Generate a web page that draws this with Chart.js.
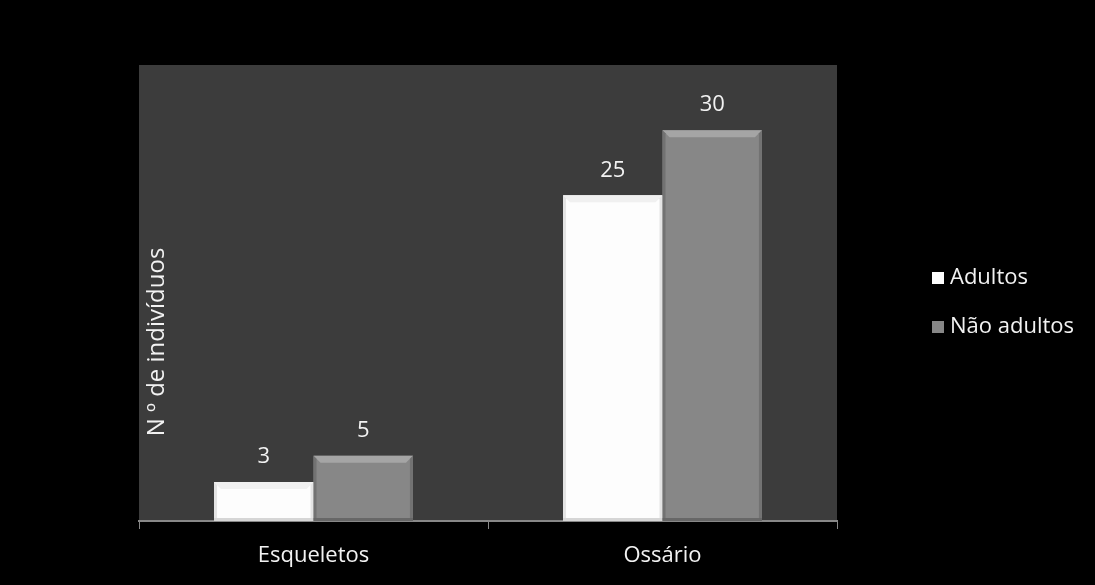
<!DOCTYPE html>
<html>
<head>
<meta charset="utf-8">
<script src="https://cdn.jsdelivr.net/npm/chart.js@4.4.0/dist/chart.umd.min.js"></script>
<style>
  html, body { margin: 0; padding: 0; background: #000; }
  #wrap { width: 1095px; height: 585px; }
</style>
</head>
<body>
<div id="wrap"><canvas id="chart"></canvas></div>
<script>
const categories = ['Esqueletos', 'Ossário'];
const seriesNames = ['Adultos', 'Não adultos'];
const adultos = [3, 25];
const naoAdultos = [5, 30];
const yTitle = 'N º de indivíduos';

const FONT = '"Open Sans", "DejaVu Sans", sans-serif';

// dark plot panel behind the bars
const panelBg = {
    id: 'panelBg',
    beforeDraw(chart) {
        const { ctx, chartArea: a } = chart;
        ctx.save();
        ctx.fillStyle = '#000';
        ctx.fillRect(0, 0, chart.width, chart.height);
        ctx.fillStyle = '#3c3c3c';
        ctx.fillRect(a.left, a.top, a.right - a.left, a.bottom - a.top);
        ctx.restore();
    }
};

// bevelled edges on each bar + value labels above
const bevel = {
    id: 'bevel',
    afterDatasetsDraw(chart) {
        const ctx = chart.ctx;
        const shades = [
            { top: 'rgba(240,240,240,1)', side: 'rgba(225,225,225,0.9)', bot: 'rgba(210,210,210,0.9)' },
            { top: 'rgba(165,165,165,1)', side: 'rgba(112,112,112,0.9)', bot: 'rgba(100,100,100,0.9)' }
        ];
        chart.data.datasets.forEach((ds, i) => {
            const s = shades[i];
            chart.getDatasetMeta(i).data.forEach((bar, j) => {
                const l = bar.x - bar.width / 2, r = bar.x + bar.width / 2;
                const t = bar.y, b = bar.base, d = 7;
                ctx.save();
                ctx.fillStyle = s.top;
                ctx.beginPath();
                ctx.moveTo(l, t); ctx.lineTo(r, t); ctx.lineTo(r - d, t + d); ctx.lineTo(l + d, t + d);
                ctx.closePath(); ctx.fill();
                ctx.fillStyle = s.side;
                ctx.beginPath();
                ctx.moveTo(l, t); ctx.lineTo(l + 3, t + 3); ctx.lineTo(l + 3, b - 3); ctx.lineTo(l, b);
                ctx.closePath(); ctx.fill();
                ctx.beginPath();
                ctx.moveTo(r, t); ctx.lineTo(r - 3, t + 3); ctx.lineTo(r - 3, b - 3); ctx.lineTo(r, b);
                ctx.closePath(); ctx.fill();
                ctx.fillStyle = s.bot;
                ctx.fillRect(l, b - 3, r - l, 3);

                ctx.fillStyle = '#f2f2f2';
                ctx.font = '22px ' + FONT;
                ctx.textAlign = 'center';
                ctx.textBaseline = 'middle';
                ctx.fillText(String(ds.data[j]), bar.x, t - 25);
                ctx.restore();
            });
        });
    }
};

// rotated axis title inside the panel and legend on the right
const extras = {
    id: 'extras',
    afterDraw(chart) {
        const ctx = chart.ctx;
        ctx.save();
        ctx.fillStyle = '#f2f2f2';
        ctx.font = '24px ' + FONT;
        ctx.translate(157, 342);
        ctx.rotate(-Math.PI / 2);
        ctx.textAlign = 'center';
        ctx.textBaseline = 'middle';
        ctx.fillText(yTitle, 0, 0);
        ctx.restore();

        ctx.save();
        ctx.font = '22px ' + FONT;
        ctx.textBaseline = 'middle';
        chart.data.datasets.forEach((ds, i) => {
            const y = 278 + i * 49;
            ctx.fillStyle = ds.backgroundColor;
            ctx.fillRect(932, y - 6, 12, 12);
            ctx.fillStyle = '#f2f2f2';
            ctx.fillText(ds.label, 950, y);
        });
        ctx.restore();
    }
};

new Chart(document.getElementById('chart'), {
    type: 'bar',
    data: {
        labels: categories,
        datasets: [{
            label: seriesNames[0],
            data: adultos,
            backgroundColor: '#fdfdfd',
            categoryPercentage: 0.57,
            barPercentage: 1.0
        }, {
            label: seriesNames[1],
            data: naoAdultos,
            backgroundColor: '#878787',
            categoryPercentage: 0.57,
            barPercentage: 1.0
        }]
    },
    options: {
        responsive: true,
        maintainAspectRatio: false,
        animation: false,
        layout: { padding: { left: 139, top: 65, right: 258, bottom: 0 } },
        scales: {
            x: {
                afterFit(scale) { scale.height = 64; },
                grid: {
                    drawOnChartArea: false,
                    drawTicks: true,
                    tickLength: 8,
                    color: '#888'
                },
                border: { display: true, color: '#888', width: 2 },
                ticks: {
                    color: '#f2f2f2',
                    padding: 14,
                    font: { family: FONT, size: 22 }
                }
            },
            y: {
                display: false,
                min: 0,
                max: 35
            }
        },
        plugins: {
            legend: { display: false },
            tooltip: { enabled: false }
        }
    },
    plugins: [panelBg, bevel, extras]
});
</script>
</body>
</html>
